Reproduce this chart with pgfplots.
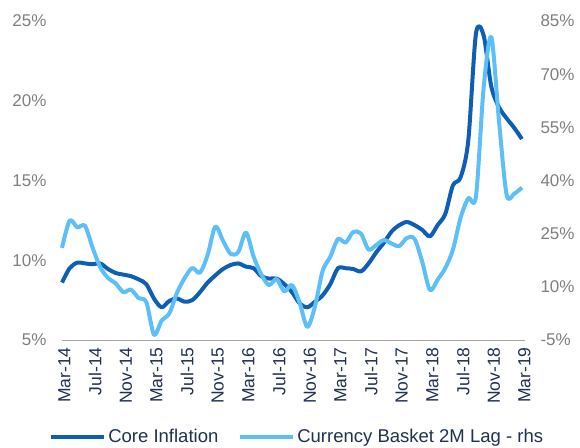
\documentclass[border=0pt]{standalone}
\usepackage{pgfplots}
\usepackage{pgfplotstable}
\pgfplotsset{compat=1.18}
\usepackage{fontspec}
\setmainfont{Liberation Sans}
\definecolor{coreblue}{HTML}{0E5FB4}
\definecolor{basket}{HTML}{5CBFF7}
\definecolor{ticknavy}{HTML}{1F3050}
\definecolor{tickgray}{HTML}{7F7F7F}
\definecolor{axisgray}{HTML}{A6A6A6}

\pgfplotstableread{
i core basket
0 8.6 21
1 9.5 28.7
2 9.85 26.8
3 9.8 27.2
4 9.75 21
5 9.8 15.5
6 9.45 12.5
7 9.2 11
8 9.1 8.5
9 9.0 9.2
10 8.8 6.8
11 8.5 5.7
12 7.6 -3.5
13 7.05 0.5
14 7.45 2.5
15 7.6 8.3
16 7.4 12.5
17 7.5 15.3
18 8.0 14
19 8.6 19
20 9.05 27
21 9.45 23
22 9.7 19.3
23 9.8 19.8
24 9.6 25.3
25 9.5 18.5
26 9.0 13.5
27 8.85 10.5
28 8.85 12.2
29 8.5 8.7
30 8.0 10.5
31 7.3 5.5
32 7.05 -1.3
33 7.4 4.5
34 7.8 14.5
35 8.5 18.5
36 9.5 23.5
37 9.5 22.5
38 9.45 25.5
39 9.3 25
40 9.8 20.5
41 10.5 21.8
42 11.1 23.2
43 11.8 22.2
44 12.2 21.5
45 12.4 23.8
46 12.2 23.5
47 11.9 17
48 11.5 9.1
49 12.2 12
50 12.9 15.3
51 14.7 20.5
52 15.2 29.5
53 17.5 35
54 24.2 35.5
55 24.1 66
56 20.9 80.5
57 19.6 57
58 18.9 36
59 18.3 36.3
60 17.6 38
}\data

\begin{document}
\begin{tikzpicture}
\path[use as bounding box] (-62bp,-108bp) rectangle (518bp,340bp);
\begin{axis}[
  scale only axis, width=463bp, height=319bp,
  at={(0,0)}, anchor=south west,
  xmin=0, xmax=60.4, ymin=5, ymax=25,
  axis x line=bottom, axis y line=left,
  x axis line style={axisgray, line width=1bp, -},
  y axis line style={draw=none},
  xtick={0,4,...,60},
  xticklabels={Mar-14,Jul-14,Nov-14,Mar-15,Jul-15,Nov-15,Mar-16,Jul-16,Nov-16,Mar-17,Jul-17,Nov-17,Mar-18,Jul-18,Nov-18,Mar-19},
  x tick label style={xshift=2.5bp, yshift=-4bp, rotate=90, anchor=east, text=ticknavy, font=\fontsize{17.5bp}{20bp}\selectfont},
  ytick={5,10,15,20,25},
  yticklabel={\pgfmathprintnumber{\tick}\%},
  y tick label style={text=tickgray, font=\fontsize{17bp}{20bp}\selectfont, xshift=-12bp},
  major tick length=0pt,
  /pgf/number format/assume math mode=true,
  clip=false,
]
\addplot[coreblue, line width=4bp, smooth, line join=round] table[x=i,y=core]{\data};
\end{axis}
\begin{axis}[
  scale only axis, width=463bp, height=319bp,
  at={(0,0)}, anchor=south west,
  xmin=0, xmax=60.4, ymin=-5, ymax=85,
  axis x line=none, axis y line=right,
  y axis line style={draw=none},
  ytick={-5,10,25,40,55,70,85},
  yticklabel={\pgfmathprintnumber{\tick}\%},
  y tick label style={text=tickgray, font=\fontsize{17bp}{20bp}\selectfont, xshift=12bp},
  major tick length=0pt,
  /pgf/number format/assume math mode=true,
  clip=false,
  legend style={at={(axis description cs:0.508,0)}, anchor=center, yshift=-96.5bp,
    draw=none, fill=none, legend columns=2,
    font=\fontsize{18.5bp}{22bp}\selectfont, text=ticknavy,
    /tikz/every even column/.append style={column sep=18bp}},
  legend image code/.code={\draw[#1] (0bp,0bp) -- (53bp,0bp);},
]
\addlegendimage{coreblue, line width=4bp}
\addlegendentry{Core Inflation}
\addplot[basket, line width=4bp, smooth, line join=round] table[x=i,y=basket]{\data};
\addlegendentry{Currency Basket 2M Lag - rhs}
\end{axis}
\end{tikzpicture}
\end{document}
